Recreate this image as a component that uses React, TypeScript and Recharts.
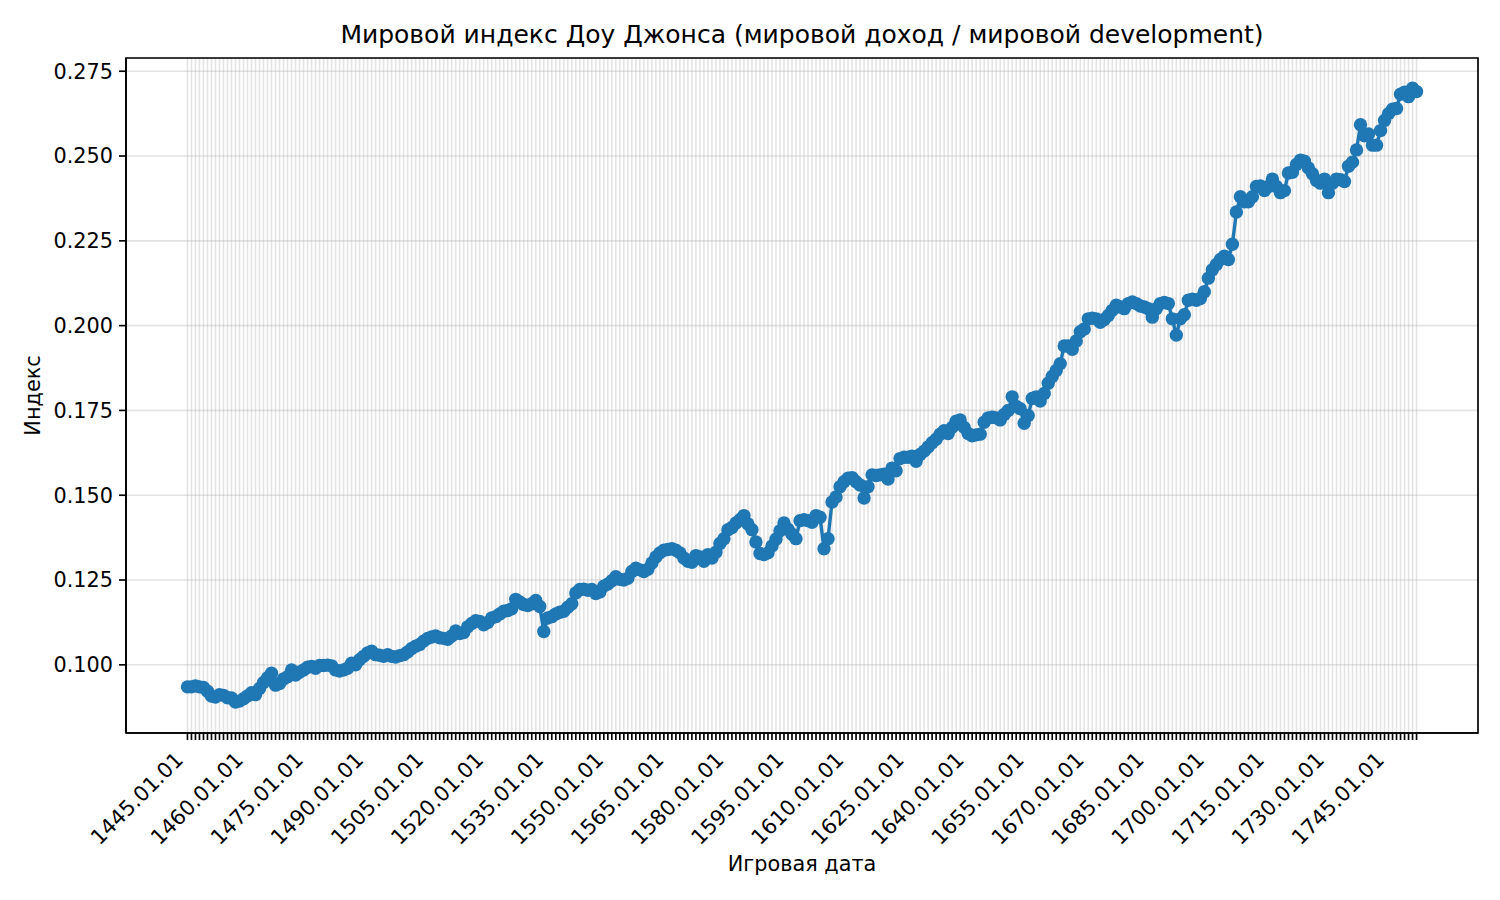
import { LineChart, Line, XAxis, YAxis, CartesianGrid, ReferenceArea } from "recharts";

// world index, one reading per game year (1445.01.01 .. 1752.01.01)
const indexValues = [
  0.0935, 0.0935, 0.0938, 0.0935, 0.0933, 0.0922, 0.0908, 0.0905, 0.0912, 0.091,
  0.0903, 0.0902, 0.089, 0.0893, 0.09, 0.0908, 0.0918, 0.0912, 0.093, 0.0948,
  0.0962, 0.0975, 0.094, 0.0945, 0.0958, 0.0965, 0.0985, 0.097, 0.0978, 0.0985,
  0.0993, 0.0995, 0.099, 0.0998, 0.0998, 0.0999, 0.0997, 0.0985, 0.0982, 0.0985,
  0.099, 0.1005, 0.1, 0.1015, 0.1025, 0.1035, 0.104, 0.103, 0.1028, 0.1025,
  0.103, 0.1025, 0.1023, 0.1027, 0.103, 0.1038, 0.1048, 0.1055, 0.106, 0.107,
  0.1078, 0.1082, 0.1085, 0.108, 0.1078, 0.1075, 0.1085, 0.11, 0.1092, 0.1095,
  0.1112, 0.1122, 0.113, 0.1128, 0.1118, 0.1125, 0.1138, 0.1142, 0.115, 0.1158,
  0.116, 0.1165, 0.1193, 0.1185, 0.1178, 0.1175, 0.118, 0.119, 0.1172, 0.1098,
  0.1138, 0.1142, 0.115, 0.1155, 0.1158, 0.117, 0.118, 0.1212, 0.1222, 0.1223,
  0.122, 0.1222, 0.121, 0.1215, 0.1232, 0.1238, 0.1248, 0.126, 0.1252, 0.125,
  0.1255, 0.1275, 0.1285, 0.128, 0.1275, 0.1282, 0.13, 0.1318, 0.133, 0.1338,
  0.134, 0.1342, 0.1338, 0.133, 0.1315, 0.1305, 0.1302, 0.1322, 0.1318, 0.1305,
  0.1325, 0.1315, 0.1332, 0.1358, 0.1372, 0.1398, 0.1405, 0.1418, 0.1428, 0.144,
  0.1415, 0.1398, 0.1362, 0.1328, 0.1325, 0.133, 0.135, 0.137, 0.1395, 0.1418,
  0.14, 0.1385, 0.1372, 0.1425, 0.1428, 0.1425, 0.142, 0.144, 0.1435, 0.1342,
  0.1372, 0.148, 0.1495, 0.1525, 0.154, 0.155, 0.1552, 0.154, 0.153, 0.1492,
  0.1525, 0.156, 0.1558, 0.156, 0.1562, 0.1548, 0.158, 0.1572, 0.1608, 0.1612,
  0.1612, 0.1615, 0.16, 0.162, 0.163, 0.1642, 0.1655, 0.1665, 0.168, 0.169,
  0.1682, 0.17, 0.1718, 0.1722, 0.17, 0.1682, 0.1675, 0.1678, 0.168, 0.1715,
  0.1728, 0.173, 0.1728, 0.1722, 0.1738, 0.175, 0.179, 0.1762, 0.1755, 0.1712,
  0.1735, 0.1785, 0.179, 0.1778, 0.18, 0.183, 0.185, 0.1868, 0.1888, 0.194,
  0.194, 0.193, 0.1955, 0.1982, 0.199, 0.202, 0.2022, 0.202, 0.201, 0.2018,
  0.203, 0.2045, 0.206, 0.2055, 0.205, 0.2065, 0.207, 0.2065, 0.2058, 0.2055,
  0.205, 0.2025, 0.205, 0.2065, 0.2068, 0.2065, 0.202, 0.1972, 0.202, 0.2032,
  0.2075, 0.2078, 0.2075, 0.208, 0.21, 0.214, 0.2165, 0.218, 0.2195, 0.2205,
  0.2195, 0.224, 0.2335, 0.238, 0.2365, 0.2365, 0.238, 0.241, 0.2412, 0.2398,
  0.241, 0.2432, 0.241, 0.2392, 0.2398, 0.245, 0.2452, 0.2475, 0.2488, 0.2485,
  0.2465, 0.2448, 0.2428, 0.242, 0.2432, 0.2392, 0.242, 0.2432, 0.243, 0.2425,
  0.247, 0.2482, 0.2518, 0.2592, 0.256, 0.2565, 0.2532, 0.2532, 0.2575, 0.2605,
  0.2625, 0.2638, 0.264, 0.2682, 0.2688, 0.2675, 0.27, 0.269,
];

const firstYear = 1445;
const gameDates = indexValues.map((_, i) => `${firstYear + i}.01.01`);
const labelEvery = 15;
const yTicks = [0.1, 0.125, 0.15, 0.175, 0.2, 0.225, 0.25, 0.275];

const data = indexValues.map((value, i) => ({ i, date: gameDates[i], value }));
const xTicks = data.map((d) => d.i);

const W = 1500;
const H = 900;
const plotLeft = 126;
const plotRight = 1478;
const plotTop = 58;
const plotBottom = 733;
const font = "DejaVu Sans, sans-serif";
const blue = "#1f77b4";

const last = indexValues.length - 1;
const xDomain = [-0.05 * last, last * 1.05];
const yDomain = [0.0799, 0.2789];

function DateTick(props: any) {
  const { x, payload } = props;
  const i = payload.value;
  if (i % labelEvery !== 0) return <g />;
  const ex = x - 3;
  const ey = plotBottom + 28;
  return (
    <text
      x={ex}
      y={ey}
      transform={`rotate(-45, ${ex}, ${ey})`}
      textAnchor="end"
      fontSize={21}
      fontFamily={font}
      fill="#000"
    >
      {gameDates[i]}
    </text>
  );
}

export default function App() {
  return (
    <div style={{ position: "absolute", left: 0, top: 0, width: W, height: H, background: "#fff", fontFamily: font }}>
      <div
        style={{
          position: "absolute",
          left: plotLeft,
          width: plotRight - plotLeft,
          top: 20,
          textAlign: "center",
          fontSize: 25,
          lineHeight: "30px",
          color: "#000",
        }}
      >
        Мировой индекс Доу Джонса (мировой доход / мировой development)
      </div>
      <LineChart
        width={W}
        height={H}
        data={data}
        margin={{ top: plotTop, right: W - plotRight, bottom: 0, left: 0 }}
      >
        <CartesianGrid stroke="#b0b0b0" strokeOpacity={0.35} strokeWidth={1.6} />
        <XAxis
          dataKey="i"
          type="number"
          domain={xDomain}
          ticks={xTicks}
          interval={0}
          allowDataOverflow
          height={H - plotBottom}
          tickSize={7}
          tickLine={{ stroke: "#000", strokeWidth: 1.67 }}
          axisLine={{ stroke: "#000", strokeWidth: 1.67 }}
          tick={<DateTick />}
          label={{
            content: () => (
              <text x={(plotLeft + plotRight) / 2} y={871} textAnchor="middle" fontSize={20.8} fontFamily={font} fill="#000">
                Игровая дата
              </text>
            ),
          }}
        />
        <YAxis
          type="number"
          domain={yDomain}
          ticks={yTicks}
          allowDataOverflow
          width={plotLeft}
          tickSize={7}
          tickMargin={6}
          tickFormatter={(v: number) => v.toFixed(3)}
          tick={{ fill: "#000", fontSize: 20.8, fontFamily: font }}
          tickLine={{ stroke: "#000", strokeWidth: 1.67 }}
          axisLine={{ stroke: "#000", strokeWidth: 1.67 }}
          label={{
            content: () => (
              <text
                x={40}
                y={(plotTop + plotBottom) / 2}
                transform={`rotate(-90, 40, ${(plotTop + plotBottom) / 2})`}
                textAnchor="middle"
                fontSize={20.8}
                fontFamily={font}
                fill="#000"
              >
                Индекс
              </text>
            ),
          }}
        />
        <ReferenceArea
          x1={xDomain[0]}
          x2={xDomain[1]}
          y1={yDomain[0]}
          y2={yDomain[1]}
          fill="none"
          fillOpacity={0}
          stroke="#000"
          strokeWidth={1.67}
          ifOverflow="visible"
        />
        <Line
          type="linear"
          dataKey="value"
          stroke={blue}
          strokeWidth={3.4}
          dot={{ r: 6.7, fill: blue, stroke: blue, strokeWidth: 0 }}
          activeDot={false}
          isAnimationActive={false}
        />
      </LineChart>
    </div>
  );
}
